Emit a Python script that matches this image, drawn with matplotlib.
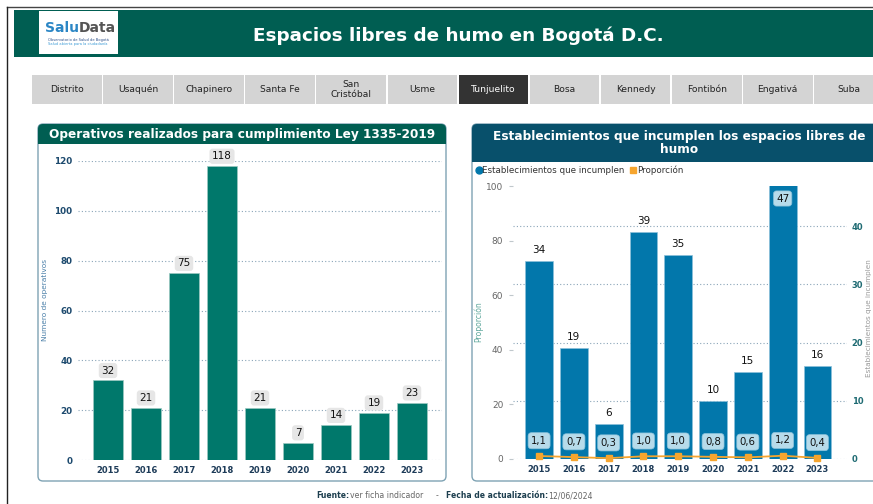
import matplotlib.pyplot as plt
import numpy as np
from matplotlib.lines import Line2D
from matplotlib.patches import FancyBboxPatch, Rectangle
from matplotlib.text import Annotation
from matplotlib.transforms import Affine2D

W, H = 873, 504

years = ["2015", "2016", "2017", "2018", "2019", "2020", "2021", "2022", "2023"]
operativos = [32, 21, 75, 118, 21, 7, 14, 19, 23]
establecimientos = [34, 19, 6, 39, 35, 10, 15, 47, 16]
proporcion = [1.1, 0.7, 0.3, 1.0, 1.0, 0.8, 0.6, 1.2, 0.4]
tabs = ["Distrito", "Usaquén", "Chapinero", "Santa Fe", "San\nCristóbal", "Usme",
        "Tunjuelito", "Bosa", "Kennedy", "Fontibón", "Engativá", "Suba"]
active_tab = "Tunjuelito"

TEAL = "#005e52"
NAVY = "#08506b"
BAR_L = "#00786b"
BAR_R = "#0277ab"
ORANGE = "#f6a52e"

fig = plt.figure(figsize=(W / 100, H / 100), dpi=100)
fig.patch.set_facecolor("white")
# pixel coordinates, origin top-left
pxT = Affine2D().scale(1 / W, -1 / H).translate(0, 1) + fig.transFigure


def rect(x0, y0, x1, y1, fc, ec="none", lw=0, z=-5, rounded=0):
    if rounded:
        p = FancyBboxPatch((x0, y0), x1 - x0, y1 - y0,
                           boxstyle=f"round,pad=0,rounding_size={rounded}",
                           fc=fc, ec=ec, lw=lw, transform=pxT, zorder=z)
    else:
        p = Rectangle((x0, y0), x1 - x0, y1 - y0, fc=fc, ec=ec, lw=lw,
                      transform=pxT, zorder=z)
    fig.patches.append(p)


def txt(x, y, s, **kw):
    kw.setdefault("ha", "center")
    kw.setdefault("va", "center")
    return fig.text(x, y, s, transform=pxT, **kw)


# page frame
fig.lines.append(Line2D([7, 873], [7, 7], transform=pxT, color="#444", lw=1))
fig.lines.append(Line2D([7, 7], [7, 504], transform=pxT, color="#222", lw=1))

# header
rect(14, 10, 873, 57, TEAL)
rect(39, 11, 118, 54, "white", z=-4)
salu = txt(45, 28, "Salu", ha="left", color="#2b86c5", fontsize=10, weight="bold")
fig.add_artist(Annotation("Data", xy=(1, 0.5), xycoords=salu, ha="left",
                          va="center", color="#555", fontsize=10, weight="bold"))
txt(78, 40, "Observatorio de Salud de Bogotá", color="#2b4f8a", fontsize=2.6)
txt(78, 44, "Salud abierta para la ciudadanía", color="#3c9bd6", fontsize=2.6)
txt(458, 36, "Espacios libres de humo en Bogotá D.C.", color="white",
    fontsize=13.2, weight="bold")

# district tabs
for i, t in enumerate(tabs):
    x0 = 32 + i * 71.1
    on = t == active_tab
    rect(x0, 75, x0 + 69.6, 103.5, "#333333" if on else "#d4d4d4", z=-4)
    txt(x0 + 34.8, 89.5, t, color="white" if on else "#222", fontsize=6.6,
        linespacing=1.2)

# left panel
rect(38, 124, 446, 481, "white", ec="#7fa3b4", lw=1, rounded=5)
rect(38, 124, 446, 144, TEAL, z=-4, rounded=5)
rect(38, 136, 446, 144, TEAL, z=-4)
txt(242, 134.5, "Operativos realizados para cumplimiento Ley 1335-2019",
    color="white", fontsize=8.7, weight="bold")

# right panel
rect(472, 124, 885, 481, "white", ec="#7fa3b4", lw=1, rounded=5)
rect(472, 124, 885, 162, NAVY, z=-4, rounded=5)
rect(472, 150, 885, 162, NAVY, z=-4)
txt(679, 143, "Establecimientos que incumplen los espacios libres de\nhumo",
    color="white", fontsize=8.7, weight="bold", linespacing=1.05)

x = np.arange(len(years))

# ---- left chart
axL = fig.add_axes([78 / W, 1 - 460 / H, 364 / W, 299 / H])
axL.set_zorder(2)
axL.patch.set_alpha(0)
axL.bar(x, operativos, width=0.79, color=BAR_L, ec="#9cc9c2", lw=0.5, zorder=2)
axL.set_xlim(-0.79, 8.79)
axL.set_ylim(0, 120)
axL.set_yticks(range(0, 121, 20))
axL.set_xticks(x, years)
axL.grid(axis="y", ls=(0, (1, 2)), color="#8aa5b8", lw=0.8)
for s in axL.spines.values():
    s.set_visible(False)
axL.tick_params(axis="y", length=0, pad=4, labelsize=6.3, labelcolor="#1d4a6e")
axL.tick_params(axis="x", length=0, pad=4, labelsize=6, labelcolor="#1d3b58")
for lab in axL.get_xticklabels() + axL.get_yticklabels():
    lab.set_fontweight("bold")
for xi, v in zip(x, operativos):
    axL.annotate(str(v), (xi, v), xytext=(0, 7), textcoords="offset points",
                 ha="center", va="center", fontsize=7.5, color="#111",
                 bbox=dict(boxstyle="round,pad=0.25,rounding_size=0.3",
                           fc="#e6e6e6", ec="none"),
                 annotation_clip=False, zorder=4)
txt(45, 300, "Numero de operativos", rotation=90, color="#4a7fa8", fontsize=5.3)

# ---- right chart: bars on the right scale, proportion line on the left scale
axB = fig.add_axes([513 / W, 1 - 459 / H, 334 / W, 273 / H])
axB.set_zorder(2)
axB.patch.set_alpha(0)
axP = axB.twinx()
axP.set_zorder(3)
axP.patch.set_alpha(0)

axB.bar(x, establecimientos, width=0.8, color=BAR_R, ec="#8cc0da", lw=0.5, zorder=2)
axB.set_xlim(-0.75, 8.85)
axB.set_ylim(0, 46.9)
axB.set_yticks(range(0, 41, 10))
axB.yaxis.tick_right()
axB.set_xticks(x, years)
axB.grid(axis="y", ls=(0, (1, 2)), color="#8aa5b8", lw=0.8)
for s in axB.spines.values():
    s.set_visible(False)
axB.tick_params(axis="y", length=0, pad=3.5, labelsize=6, labelcolor="#1f6b73")
axB.tick_params(axis="x", length=0, pad=4, labelsize=6, labelcolor="#1d3b58")
for lab in axB.get_xticklabels() + axB.get_yticklabels():
    lab.set_fontweight("bold")
top = axB.get_ylim()[1]
for xi, v in zip(x, establecimientos):
    if v >= top * 0.95:
        axB.annotate(str(v), (xi, top), xytext=(0, -9), textcoords="offset points",
                     ha="center", va="center", fontsize=7.5, color="#111",
                     bbox=dict(boxstyle="round,pad=0.25,rounding_size=0.3",
                               fc="#b7dbea", ec="#7fbcd6", lw=0.5),
                     annotation_clip=False, zorder=4)
    else:
        axB.annotate(str(v), (xi, v), xytext=(0, 8), textcoords="offset points",
                     ha="center", va="center", fontsize=7.5, color="#111",
                     annotation_clip=False, zorder=4)

axP.yaxis.tick_left()
axP.plot(x, proporcion, color=ORANGE, lw=1.3, marker="s", ms=4.5, zorder=3,
         clip_on=False)
axP.set_ylim(0, 100)
axP.set_yticks(range(0, 101, 20))
for s in axP.spines.values():
    s.set_visible(False)
axP.tick_params(axis="y", length=3, width=0.8, color="#c0c8cc", pad=4,
                labelsize=6.5, labelcolor="#666")
for xi, v in zip(x, proporcion):
    axP.annotate(f"{v:.1f}".replace(".", ","), (xi, v), xytext=(0, 11),
                 textcoords="offset points", ha="center", va="center",
                 fontsize=7.3, color="#111",
                 bbox=dict(boxstyle="round,pad=0.3,rounding_size=0.35",
                           fc="#b7dbea", ec="#8cc3dc", lw=0.5), zorder=5)

txt(478, 322, "Proporción", rotation=90, color="#5ea79c", fontsize=5.5)
txt(869.5, 318, "Establecimientos que incumplen", rotation=90, color="#9a9a9a",
    fontsize=5.2)

handles = [Line2D([], [], marker="o", ls="none", color=BAR_R, ms=5),
           Line2D([], [], marker="s", ls="none", color=ORANGE, ms=5)]
fig.legend(handles, ["Establecimientos que incumplen", "Proporción"],
           loc="center left", bbox_to_anchor=(475, 170), bbox_transform=pxT,
           ncol=2, frameon=False, fontsize=6.3, handletextpad=0.05,
           columnspacing=0.5, handlelength=0.8, labelcolor="#333",
           borderpad=0, borderaxespad=0)

# footer
txt(316, 496, "Fuente:", ha="left", color="#1d3f4f", fontsize=5.5, weight="bold")
txt(350, 496, "ver ficha indicador", ha="left", color="#666", fontsize=5.6)
txt(436, 496, "-", ha="left", color="#666", fontsize=5.6)
txt(446, 496, "Fecha de actualización:", ha="left", color="#1d3f4f", fontsize=5.5,
    weight="bold")
txt(548, 496, "12/06/2024", ha="left", color="#666", fontsize=5.6)

fig.savefig("out.png", dpi=100)
